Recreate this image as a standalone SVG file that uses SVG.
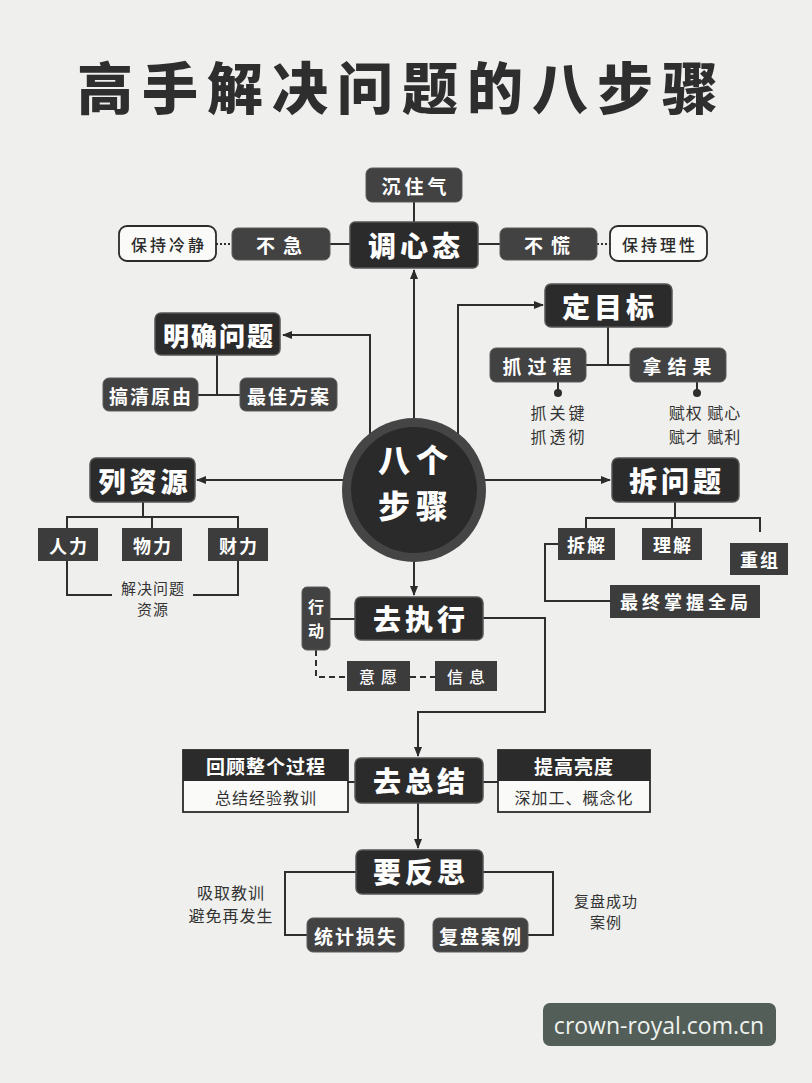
<svg xmlns="http://www.w3.org/2000/svg" width="812" height="1083" viewBox="0 0 812 1083">
<defs>
<marker id="arr" markerWidth="10" markerHeight="10" refX="9" refY="5" orient="auto" markerUnits="userSpaceOnUse">
<path d="M0,1 L10,5 L0,9 Z" fill="#2b2b2b"/>
</marker>
<style>
.bg{fill:#efefed}
.main{fill:#2b2b2b;stroke:#555;stroke-width:1.5}
.sub{fill:#424242;stroke:#5a5a5a;stroke-width:1}
.sq{fill:#3c3c3c}
.wbox{fill:#fafaf8;stroke:#2b2b2b;stroke-width:1.8}
.ln{fill:none;stroke:#2e2e2e;stroke-width:2}
.dot{fill:none;stroke:#2e2e2e;stroke-width:2;stroke-dasharray:2 2}
.dash{fill:none;stroke:#2e2e2e;stroke-width:2;stroke-dasharray:6 4}
text{font-family:"Noto Sans CJK SC","Noto Sans",sans-serif;text-anchor:middle;dominant-baseline:central}
.tmain{fill:#fff;font-size:28px;font-weight:900;letter-spacing:4px}
.tsub{fill:#fff;font-size:19px;font-weight:700;letter-spacing:4px}
.tdark{fill:#2b2b2b;font-size:16px;font-weight:500;letter-spacing:3px}
.tplain{fill:#333;font-size:16px;font-weight:400;letter-spacing:1px}
.tsmall{fill:#333;font-size:15px;font-weight:400;letter-spacing:1px}
.tcenter{fill:#fff;font-size:32px;font-weight:900;letter-spacing:6px}
</style>
</defs>
<rect class="bg" x="0" y="0" width="812" height="1083"/>
<text x="402" y="84" style="font-size:56px;font-weight:900;fill:#2e2e2e;letter-spacing:9px">高手解决问题的八步骤</text>

<g id="connectors">
<line class="ln" x1="414" y1="202" x2="414" y2="222"/>
<line class="dot" x1="216" y1="244" x2="232" y2="244"/>
<line class="ln" x1="330" y1="244" x2="350" y2="244"/>
<line class="ln" x1="478" y1="244" x2="500" y2="244"/>
<line class="dot" x1="597" y1="244" x2="610" y2="244"/>
<line class="ln" x1="414" y1="420" x2="414" y2="270" marker-end="url(#arr)"/>
<polyline class="ln" points="370,440 370,335 283,335" marker-end="url(#arr)"/>
<line class="ln" x1="217" y1="355" x2="217" y2="395"/>
<line class="ln" x1="198" y1="395" x2="240" y2="395"/>
<polyline class="ln" points="458,440 458,305 543,305" marker-end="url(#arr)"/>
<line class="ln" x1="608" y1="327" x2="608" y2="365"/>
<line class="ln" x1="586" y1="365" x2="630" y2="365"/>
<line class="ln" x1="558" y1="382" x2="558" y2="392"/>
<circle cx="558" cy="393" r="4" fill="#2e2e2e"/>
<line class="ln" x1="697" y1="382" x2="697" y2="392"/>
<circle cx="697" cy="393" r="4" fill="#2e2e2e"/>
<line class="ln" x1="343" y1="480" x2="197" y2="480" marker-end="url(#arr)"/>
<line class="ln" x1="143" y1="502" x2="143" y2="517"/>
<polyline class="ln" points="67,528 67,517 238,517 238,528"/>
<line class="ln" x1="152" y1="517" x2="152" y2="528"/>
<polyline class="ln" points="67,561 67,595 112,595"/>
<polyline class="ln" points="193,595 238,595 238,561"/>
<line class="ln" x1="485" y1="480" x2="610" y2="480" marker-end="url(#arr)"/>
<line class="ln" x1="675" y1="502" x2="675" y2="518"/>
<polyline class="ln" points="586,528 586,518 760,518 760,532"/>
<line class="ln" x1="672" y1="518" x2="672" y2="528"/>
<polyline class="ln" points="558,544 545,544 545,601 610,601"/>
<line class="ln" x1="414" y1="562" x2="414" y2="595" marker-end="url(#arr)"/>
<line class="ln" x1="330" y1="619" x2="355" y2="619"/>
<polyline class="dash" points="316,650 316,677 347,677"/>
<line class="dash" x1="410" y1="677" x2="435" y2="677"/>
<polyline class="ln" points="483,618 545,618 545,712 418,712 418,756" marker-end="url(#arr)"/>
<line class="ln" x1="348" y1="782" x2="355" y2="782"/>
<line class="ln" x1="483" y1="782" x2="498" y2="782"/>
<line class="ln" x1="418" y1="803" x2="418" y2="848" marker-end="url(#arr)"/>
<polyline class="ln" points="356,872 285,872 285,935 307,935"/>
<polyline class="ln" points="483,872 553,872 553,935 528,935"/>
</g>

<g id="n-center">
<circle cx="414" cy="490" r="72" fill="#454545"/>
<circle cx="414" cy="490" r="63" fill="#2a2a2a"/>
<text class="tcenter" x="416" y="458">八个</text>
<text class="tcenter" x="416" y="504">步骤</text>
</g>

<g id="n-chenzhuqi"><rect class="sub" x="366" y="168" width="96" height="34" rx="6"/><text class="tsub" x="416" y="185">沉住气</text></g>
<g id="n-tiaoxintai"><rect class="main" x="350" y="222" width="128" height="46" rx="5"/><text class="tmain" x="416" y="245">调心态</text></g>
<g id="n-buji"><rect class="sub" x="232" y="228" width="98" height="32" rx="6"/><text class="tsub" x="283" y="244" style="letter-spacing:8px">不急</text></g>
<g id="n-baochilengjing"><rect class="wbox" x="119" y="226" width="97" height="35" rx="8"/><text class="tdark" x="169" y="244">保持冷静</text></g>
<g id="n-buhuang"><rect class="sub" x="500" y="228" width="97" height="32" rx="6"/><text class="tsub" x="551" y="244" style="letter-spacing:8px">不慌</text></g>
<g id="n-baochilixing"><rect class="wbox" x="610" y="226" width="97" height="35" rx="8"/><text class="tdark" x="660" y="244">保持理性</text></g>

<g id="n-mingque"><rect class="main" x="155" y="313" width="125" height="42" rx="6"/><text class="tmain" x="219" y="334" style="font-size:26px;letter-spacing:2px">明确问题</text></g>
<g id="n-gaoqing"><rect class="sub" x="103" y="378" width="95" height="33" rx="6"/><text class="tsub" x="151" y="395" style="letter-spacing:2px">搞清原由</text></g>
<g id="n-zuijia"><rect class="sub" x="240" y="378" width="97" height="33" rx="6"/><text class="tsub" x="289" y="395" style="letter-spacing:2px">最佳方案</text></g>

<g id="n-dingmubiao"><rect class="main" x="545" y="284" width="127" height="43" rx="6"/><text class="tmain" x="610" y="306">定目标</text></g>
<g id="n-zhuaguocheng"><rect class="sub" x="490" y="348" width="96" height="34" rx="6"/><text class="tsub" x="540" y="365" style="letter-spacing:6px">抓过程</text></g>
<g id="n-najieguo"><rect class="sub" x="630" y="348" width="96" height="34" rx="6"/><text class="tsub" x="680" y="365" style="letter-spacing:6px">拿结果</text></g>
<g id="t-zhua"><text class="tplain" x="559" y="412" style="letter-spacing:3px">抓关键</text><text class="tplain" x="559" y="436" style="letter-spacing:3px">抓透彻</text></g>
<g id="t-fu"><text class="tplain" x="705" y="412">赋权 赋心</text><text class="tplain" x="705" y="436">赋才 赋利</text></g>

<g id="n-liziyuan"><rect class="main" x="90" y="458" width="105" height="44" rx="6"/><text class="tmain" x="145" y="480" style="font-size:27px">列资源</text></g>
<g id="n-renli"><rect class="sq" x="38" y="528" width="60" height="33"/><text class="tsub" x="69" y="545" style="font-size:18px;letter-spacing:2px">人力</text></g>
<g id="n-wuli"><rect class="sq" x="122" y="528" width="60" height="33"/><text class="tsub" x="153" y="545" style="font-size:18px;letter-spacing:2px">物力</text></g>
<g id="n-caili"><rect class="sq" x="208" y="528" width="60" height="33"/><text class="tsub" x="239" y="545" style="font-size:18px;letter-spacing:2px">财力</text></g>
<g id="t-jiejue"><text class="tsmall" x="153" y="587">解决问题</text><text class="tsmall" x="153" y="608">资源</text></g>

<g id="n-chaiwenti"><rect class="main" x="612" y="458" width="127" height="44" rx="6"/><text class="tmain" x="677" y="480">拆问题</text></g>
<g id="n-chaijie"><rect class="sq" x="558" y="528" width="57" height="32"/><text class="tsub" x="587" y="544" style="font-size:18px;letter-spacing:2px">拆解</text></g>
<g id="n-lijie"><rect class="sq" x="642" y="528" width="60" height="32"/><text class="tsub" x="673" y="544" style="font-size:18px;letter-spacing:2px">理解</text></g>
<g id="n-chongzu"><rect class="sq" x="730" y="543" width="58" height="32"/><text class="tsub" x="760" y="559" style="font-size:18px;letter-spacing:2px">重组</text></g>
<g id="n-zuizhong"><rect class="sq" x="610" y="585" width="150" height="33"/><text class="tsub" x="686" y="601" style="font-size:18px;letter-spacing:4px">最终掌握全局</text></g>

<g id="n-quzhixing"><rect class="main" x="355" y="597" width="128" height="43" rx="6"/><text class="tmain" x="421" y="618">去执行</text></g>
<g id="n-xingdong"><rect class="sub" x="302" y="587" width="28" height="63" rx="5"/><text class="tsub" x="316" y="606" style="font-size:16px;letter-spacing:0">行</text><text class="tsub" x="316" y="630" style="font-size:16px;letter-spacing:0">动</text></g>
<g id="n-yiyuan"><rect class="sq" x="347" y="661" width="63" height="30"/><text class="tsub" x="381" y="676" style="font-size:16px;font-weight:500;letter-spacing:6px">意愿</text></g>
<g id="n-xinxi"><rect class="sq" x="435" y="661" width="62" height="30"/><text class="tsub" x="469" y="676" style="font-size:16px;font-weight:500;letter-spacing:6px">信息</text></g>

<g id="n-quzongjie"><rect class="main" x="355" y="758" width="128" height="45" rx="6"/><text class="tmain" x="421" y="780">去总结</text></g>
<g id="n-huigu"><rect class="wbox" x="183" y="750" width="165" height="62"/><rect x="183" y="750" width="165" height="31" fill="#2b2b2b"/><text class="tsub" x="266" y="765" style="letter-spacing:1px">回顾整个过程</text><text class="tdark" x="266" y="797" style="fill:#333;font-weight:400;letter-spacing:1px">总结经验教训</text></g>
<g id="n-tigao"><rect class="wbox" x="498" y="750" width="152" height="62"/><rect x="498" y="750" width="152" height="31" fill="#2b2b2b"/><text class="tsub" x="574" y="765" style="letter-spacing:1px">提高亮度</text><text class="tdark" x="574" y="797" style="fill:#333;font-weight:400;letter-spacing:1px">深加工、概念化</text></g>

<g id="n-yaofansi"><rect class="main" x="356" y="850" width="127" height="44" rx="6"/><text class="tmain" x="421" y="871">要反思</text></g>
<g id="n-tongji"><rect class="sub" x="307" y="918" width="97" height="34" rx="6"/><text class="tsub" x="356" y="935" style="letter-spacing:2px">统计损失</text></g>
<g id="n-fupan"><rect class="sub" x="433" y="918" width="95" height="34" rx="6"/><text class="tsub" x="481" y="935" style="letter-spacing:2px">复盘案例</text></g>
<g id="t-xiqu"><text class="tplain" x="231" y="892">吸取教训</text><text class="tplain" x="231" y="915">避免再发生</text></g>
<g id="t-fupan"><text class="tsmall" x="606" y="900">复盘成功</text><text class="tsmall" x="606" y="921">案例</text></g>

<g id="watermark"><rect x="543" y="1003" width="233" height="43" rx="7" fill="#535e58"/><text x="659" y="1025" style="font-family:'Open Sans','Noto Sans',sans-serif;font-size:23px;fill:#eef2ee">crown-royal.com.cn</text></g>
</svg>
